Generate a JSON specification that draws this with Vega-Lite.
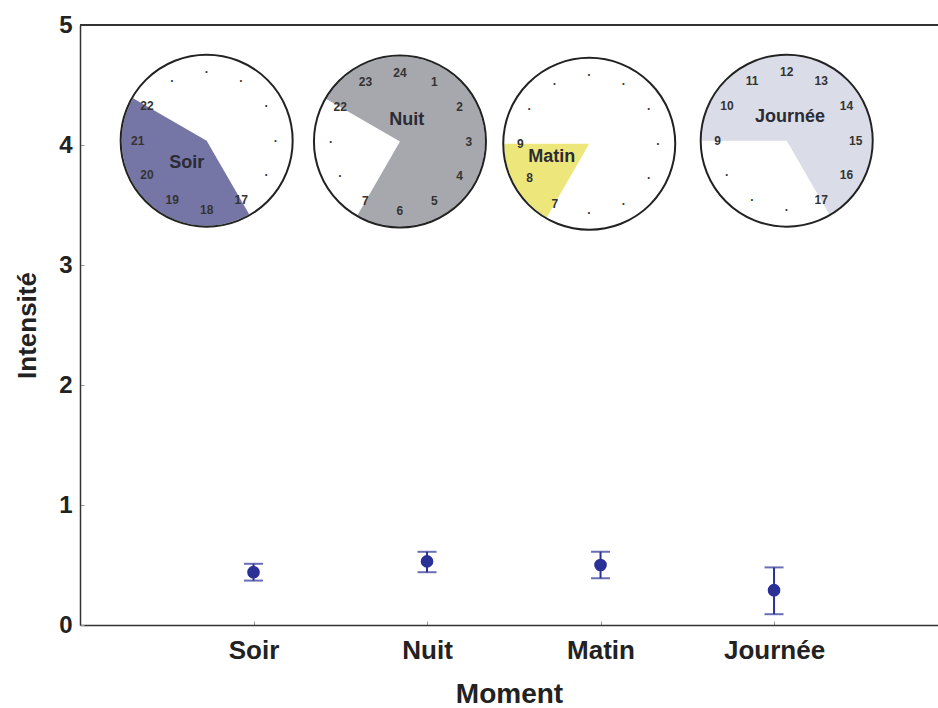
{
  "$schema": "https://vega.github.io/schema/vega-lite/v6.json",
  "width": 858,
  "height": 600,
  "autosize": {"type": "none"},
  "padding": {"left": 80, "top": 25, "right": 0, "bottom": 83},
  "background": "white",
  "config": {"view": {"stroke": null}, "font": "Liberation Sans"},
  "datasets": {
    "points": [
      {"moment": "Soir", "pos": 1, "mean": 0.44, "lo": 0.37, "hi": 0.51},
      {"moment": "Nuit", "pos": 2, "mean": 0.53, "lo": 0.44, "hi": 0.61},
      {"moment": "Matin", "pos": 3, "mean": 0.5, "lo": 0.39, "hi": 0.61},
      {"moment": "Journée", "pos": 4, "mean": 0.29, "lo": 0.09, "hi": 0.48}
    ],
    "clocks": [
      {"clock": "Soir", "cx": 0.73, "cy": 4.036, "t1": 5, "t2": 10, "tx": 0.615, "ty": 3.848},
      {"clock": "Nuit", "cx": 1.844, "cy": 4.029, "t1": -2, "t2": 7, "tx": 1.883, "ty": 4.208},
      {"clock": "Matin", "cx": 2.935, "cy": 4.01, "t1": 7, "t2": 9, "tx": 2.719, "ty": 3.898},
      {"clock": "Journée", "cx": 4.073, "cy": 4.036, "t1": 9, "t2": 17, "tx": 4.092, "ty": 4.236}
    ],
    "hours": [
      {"clock": "Soir", "p": 5, "label": "17"},
      {"clock": "Soir", "p": 6, "label": "18"},
      {"clock": "Soir", "p": 7, "label": "19"},
      {"clock": "Soir", "p": 8, "label": "20"},
      {"clock": "Soir", "p": 9, "label": "21"},
      {"clock": "Soir", "p": 10, "label": "22"},
      {"clock": "Soir", "p": 11, "label": "·"},
      {"clock": "Soir", "p": 0, "label": "·"},
      {"clock": "Soir", "p": 1, "label": "·"},
      {"clock": "Soir", "p": 2, "label": "·"},
      {"clock": "Soir", "p": 3, "label": "·"},
      {"clock": "Soir", "p": 4, "label": "·"},
      {"clock": "Nuit", "p": 10, "label": "22"},
      {"clock": "Nuit", "p": 11, "label": "23"},
      {"clock": "Nuit", "p": 0, "label": "24"},
      {"clock": "Nuit", "p": 1, "label": "1"},
      {"clock": "Nuit", "p": 2, "label": "2"},
      {"clock": "Nuit", "p": 3, "label": "3"},
      {"clock": "Nuit", "p": 4, "label": "4"},
      {"clock": "Nuit", "p": 5, "label": "5"},
      {"clock": "Nuit", "p": 6, "label": "6"},
      {"clock": "Nuit", "p": 7, "label": "7"},
      {"clock": "Nuit", "p": 8, "label": "·"},
      {"clock": "Nuit", "p": 9, "label": "·"},
      {"clock": "Matin", "p": 7, "label": "7"},
      {"clock": "Matin", "p": 8, "label": "8"},
      {"clock": "Matin", "p": 9, "label": "9"},
      {"clock": "Matin", "p": 10, "label": "·"},
      {"clock": "Matin", "p": 11, "label": "·"},
      {"clock": "Matin", "p": 0, "label": "·"},
      {"clock": "Matin", "p": 1, "label": "·"},
      {"clock": "Matin", "p": 2, "label": "·"},
      {"clock": "Matin", "p": 3, "label": "·"},
      {"clock": "Matin", "p": 4, "label": "·"},
      {"clock": "Matin", "p": 5, "label": "·"},
      {"clock": "Matin", "p": 6, "label": "·"},
      {"clock": "Journée", "p": 9, "label": "9"},
      {"clock": "Journée", "p": 10, "label": "10"},
      {"clock": "Journée", "p": 11, "label": "11"},
      {"clock": "Journée", "p": 0, "label": "12"},
      {"clock": "Journée", "p": 1, "label": "13"},
      {"clock": "Journée", "p": 2, "label": "14"},
      {"clock": "Journée", "p": 3, "label": "15"},
      {"clock": "Journée", "p": 4, "label": "16"},
      {"clock": "Journée", "p": 5, "label": "17"},
      {"clock": "Journée", "p": 6, "label": "·"},
      {"clock": "Journée", "p": 7, "label": "·"},
      {"clock": "Journée", "p": 8, "label": "·"}
    ]
  },
  "layer": [
    {
      "data": {"name": "points"},
      "mark": {"type": "errorbar", "ticks": true, "color": "#2b3196", "thickness": 2, "size": 19},
      "encoding": {
        "x": {
          "field": "pos",
          "type": "quantitative",
          "title": "Moment",
          "scale": {"domain": [0, 4.945], "nice": false, "zero": false},
          "axis": {
            "values": [1, 2, 3, 4],
            "labelExpr": "['','Soir','Nuit','Matin','Journée'][datum.value]",
            "labelFontSize": 26,
            "labelFontWeight": "bold",
            "labelColor": "#222",
            "labelPadding": 16,
            "tickSize": -4,
            "tickColor": "#999",
            "domainColor": "#333",
            "domainWidth": 1.5,
            "grid": false,
            "titleFontSize": 28,
            "titleFontWeight": "bold",
            "titleColor": "#222",
            "titlePadding": 17
          }
        },
        "y": {
          "field": "lo",
          "type": "quantitative",
          "title": "Intensité",
          "scale": {"domain": [0, 5], "nice": false},
          "axis": {
            "values": [0, 1, 2, 3, 4, 5],
            "format": "d",
            "labelFontSize": 24,
            "labelFontWeight": "bold",
            "labelColor": "#222",
            "labelPadding": 12,
            "tickSize": -4,
            "tickColor": "#999",
            "domainColor": "#333",
            "domainWidth": 1.5,
            "grid": false,
            "titleFontSize": 26,
            "titleFontWeight": "bold",
            "titleColor": "#222",
            "titlePadding": 18
          }
        },
        "y2": {"field": "hi"}
      }
    },
    {
      "data": {"name": "points"},
      "mark": {"type": "point", "filled": true, "size": 160, "color": "#2a3096", "opacity": 1},
      "encoding": {
        "x": {"field": "pos", "type": "quantitative", "title": "Moment"},
        "y": {"field": "mean", "type": "quantitative", "title": "Intensité"}
      }
    },
    {
      "data": {"name": "points"},
      "mark": {"type": "rule", "color": "#333", "strokeWidth": 1.5},
      "encoding": {"y": {"datum": 5, "type": "quantitative", "title": "Intensité"}}
    },
    {
      "data": {"name": "clocks"},
      "mark": {"type": "arc", "radius": 85, "strokeWidth": 0},
      "encoding": {
        "x": {"field": "cx", "type": "quantitative", "title": "Moment"},
        "y": {"field": "cy", "type": "quantitative", "title": "Intensité"},
        "theta": {"field": "t1", "type": "quantitative", "stack": null, "scale": {"domain": [0, 12], "range": [0, 6.283185], "zero": false, "nice": false}},
        "theta2": {"field": "t2"},
        "color": {
          "field": "clock",
          "type": "nominal",
          "legend": null,
          "scale": {"domain": ["Soir", "Nuit", "Matin", "Journée"], "range": ["#7676a6", "#a7a8ad", "#ede77b", "#dadde8"]}
        }
      }
    },
    {
      "data": {"name": "clocks"},
      "mark": {"type": "arc", "radius": 86, "theta": 0, "theta2": 6.2832, "filled": false, "stroke": "#222", "strokeWidth": 2},
      "encoding": {
        "x": {"field": "cx", "type": "quantitative", "title": "Moment"},
        "y": {"field": "cy", "type": "quantitative", "title": "Intensité"}
      }
    },
    {
      "data": {"name": "hours"},
      "transform": [
        {"lookup": "clock", "from": {"data": {"name": "clocks"}, "key": "clock", "fields": ["cx", "cy"]}}
      ],
      "mark": {"type": "text", "radius": 69, "fontSize": 12, "fontWeight": "bold", "color": "#333", "align": "center", "baseline": "middle"},
      "encoding": {
        "x": {"field": "cx", "type": "quantitative", "title": "Moment"},
        "y": {"field": "cy", "type": "quantitative", "title": "Intensité"},
        "theta": {"field": "p", "type": "quantitative", "stack": null},
        "text": {"field": "label"}
      }
    },
    {
      "data": {"name": "clocks"},
      "mark": {"type": "text", "fontSize": 18, "fontWeight": "bold", "color": "#2b2b35", "align": "center", "baseline": "middle"},
      "encoding": {
        "x": {"field": "tx", "type": "quantitative", "title": "Moment"},
        "y": {"field": "ty", "type": "quantitative", "title": "Intensité"},
        "text": {"field": "clock"}
      }
    }
  ]
}
